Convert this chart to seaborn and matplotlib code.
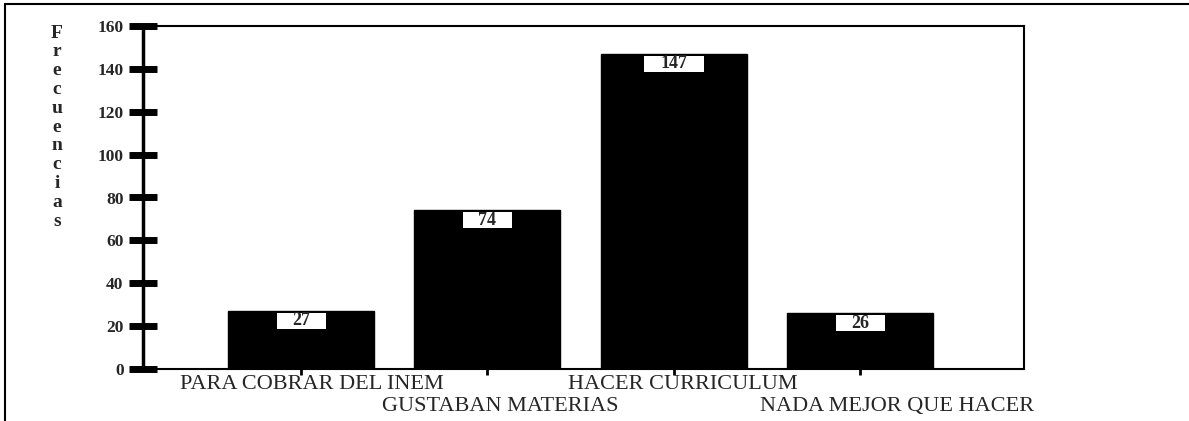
import matplotlib
matplotlib.use("Agg")
import matplotlib.pyplot as plt
import matplotlib.patches as mpatches
import seaborn as sns
import pandas as pd

# Datos del grafico
categorias = ["PARA COBRAR DEL INEM", "GUSTABAN MATERIAS",
              "HACER CURRICULUM", "NADA MEJOR QUE HACER"]
frecuencias = [27, 74, 147, 26]
ticks_y = [0, 20, 40, 60, 80, 100, 120, 140, 160]

df = pd.DataFrame({"categoria": categorias, "frecuencia": frecuencias})

sns.set_style("white")
plt.rcParams["font.family"] = ["Liberation Serif", "DejaVu Serif"]

fig = plt.figure(figsize=(11.89, 4.21), dpi=100)
ax = fig.add_axes([143 / 1189, 1 - 369 / 421, (1024 - 143) / 1189, (369 - 26) / 421])

sns.barplot(data=df, x="categoria", y="frecuencia", color="black",
            width=0.785, saturation=1, edgecolor="black", ax=ax)

ax.set_xlim(-0.848, 3.88)
ax.set_ylim(0, 160)
ax.set_yticks(ticks_y)
ax.set_yticklabels([str(t) for t in ticks_y], fontsize=12.5, fontweight="bold")
ax.tick_params(axis="y", left=True, direction="inout", length=20, width=5,
               color="black", pad=4)
ax.tick_params(axis="x", bottom=True, direction="out", length=4, width=2,
               color="black", pad=2)
ax.set_xticks(range(len(categorias)))
ax.set_xticklabels([])

# etiquetas de categoria en dos filas alternas
desplaz = [0.06, 0.07, 0.05, 0.20]
for i, cat in enumerate(categorias):
    off = -0.018 if i % 2 == 0 else -0.082
    ax.text(i + desplaz[i], off, cat, transform=ax.get_xaxis_transform(),
            ha="center", va="top", fontsize=16)
ax.set_xlabel("")
ax.set_ylabel("")

for s in ax.spines.values():
    s.set_visible(True)
    s.set_color("black")
    s.set_linewidth(1.5)
ax.spines["left"].set_linewidth(2.5)

# etiquetas de valor en cajas blancas
for i, v in enumerate(frecuencias):
    txt = str(v)
    w = 0.145 + 0.059 * len(txt)
    ax.add_patch(mpatches.Rectangle((i - w / 2, v - 8.4), w, 7.5,
                                    facecolor="white", edgecolor="none", zorder=4))
    ax.text(i, v - 4.6, txt, ha="center", va="center", fontsize=13,
            fontweight="bold", zorder=5)

# rotulo vertical "Frecuencias"
for k, letra in enumerate("Frecuencias"):
    fig.text(57 / 1189, 1 - (33 + k * 18.8) / 421, letra, ha="center", va="center",
             fontsize=14, fontweight="bold")

# marco exterior de la figura
fig.add_artist(plt.Line2D([5 / 1189, 5 / 1189], [0, 1 - 4 / 421], color="black", lw=1.5,
                          transform=fig.transFigure))
fig.add_artist(plt.Line2D([5 / 1189, 1], [1 - 4 / 421, 1 - 4 / 421], color="black", lw=1.5,
                          transform=fig.transFigure))

fig.savefig("out.png", dpi=100, facecolor="white")
